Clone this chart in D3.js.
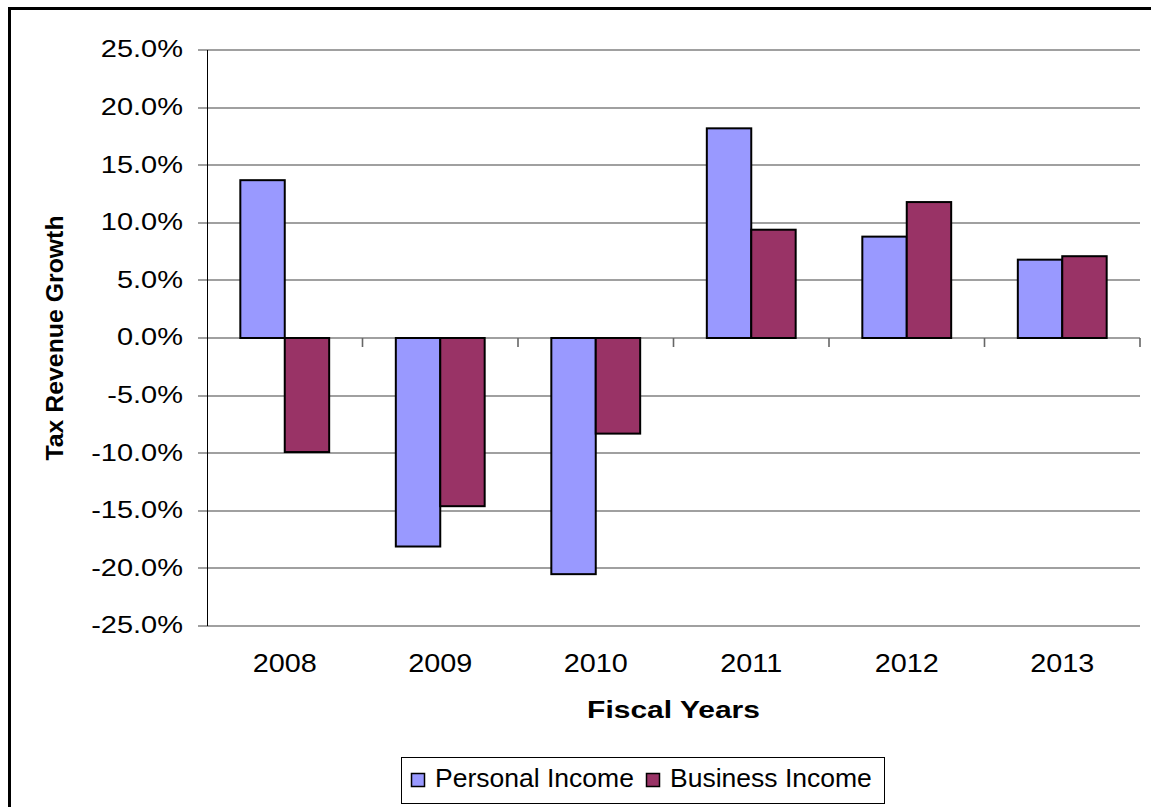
<!DOCTYPE html>
<html>
<head>
<meta charset="utf-8">
<script src="https://cdn.jsdelivr.net/npm/d3@7"></script>
<style>
  body { margin: 0; background: #fff; }
  svg { display: block; font-family: "Liberation Sans", Arial, sans-serif; }
</style>
</head>
<body>
<script>
const years = ['2008', '2009', '2010', '2011', '2012', '2013'];
const seriesNames = ['Personal Income', 'Business Income'];
const personal = [0.137, -0.181, -0.205, 0.182, 0.088, 0.068];
const business = [-0.099, -0.146, -0.083, 0.094, 0.118, 0.071];
const yTicks = [-0.25, -0.2, -0.15, -0.1, -0.05, 0, 0.05, 0.1, 0.15, 0.2, 0.25];
const colors = ['#9999ff', '#993366'];

const width = 1151;
const height = 807;
const margins = { top: 50, bottom: 181, left: 207, right: 11 };

const rows = years.map((y, i) => ({ year: y, values: [personal[i], business[i]] }));

// plain hyphen for negatives, like the original
const pct = d3.formatLocale({
  decimal: '.', thousands: ',', grouping: [3], currency: ['$', ''], minus: '-'
}).format('.1%');

const x0 = d3.scaleBand(years, [margins.left, width - margins.right]).padding(0);
const x1 = d3.scaleBand(d3.range(seriesNames.length), [0, x0.bandwidth()])
  .paddingInner(0)
  .paddingOuter(0.75);
const yScale = d3.scaleLinear([-0.25, 0.25], [height - margins.bottom, margins.top]);

const svg = d3.select('body').append('svg')
  .attr('width', width)
  .attr('height', height);

// outer chart border (runs off the right and bottom edge)
svg.append('rect')
  .attr('x', 9.5)
  .attr('y', 8.5)
  .attr('width', width + 20)
  .attr('height', height + 20)
  .attr('fill', 'none')
  .attr('stroke', '#000')
  .attr('stroke-width', 3);

// gridlines + left tick marks
svg.append('g')
  .selectAll('line')
  .data(yTicks)
  .join('line')
  .attr('x1', margins.left - 9)
  .attr('x2', width - margins.right)
  .attr('y1', d => Math.round(yScale(d)))
  .attr('y2', d => Math.round(yScale(d)))
  .attr('stroke', '#808080')
  .attr('stroke-width', 1.6);

// y axis labels
const ySx = 1.26;
const gy = svg.append('g')
  .attr('transform', `translate(${margins.left}, 0)`)
  .call(d3.axisLeft(yScale).tickValues(yTicks).tickFormat(pct).tickSize(0))
gy.select('.domain').remove();
gy.selectAll('text')
  .attr('x', 0)
  .attr('dy', '0.3em')
  .attr('font-size', 23)
  .attr('fill', '#000')
  .attr('font-family', '"Liberation Sans", Arial, sans-serif')
  .attr('transform', `translate(-24, 0) scale(${ySx}, 1)`);

// left axis line
svg.append('line')
  .attr('x1', margins.left + 0.5)
  .attr('x2', margins.left + 0.5)
  .attr('y1', yScale(0.25))
  .attr('y2', yScale(-0.25))
  .attr('stroke', '#000')
  .attr('stroke-width', 1);

// zero-line tick marks at category boundaries
svg.append('g')
  .selectAll('line')
  .data(years)
  .join('line')
  .attr('x1', d => x0(d) + x0.bandwidth())
  .attr('x2', d => x0(d) + x0.bandwidth())
  .attr('y1', Math.round(yScale(0)))
  .attr('y2', Math.round(yScale(0)) + 9)
  .attr('stroke', '#666')
  .attr('stroke-width', 1.6);

// bars
svg.append('g')
  .selectAll('g')
  .data(rows)
  .join('g')
  .attr('transform', d => `translate(${x0(d.year)}, 0)`)
  .selectAll('rect')
  .data(d => d.values.map((v, i) => ({ v, i })))
  .join('rect')
  .attr('x', d => x1(d.i))
  .attr('width', x1.bandwidth())
  .attr('y', d => yScale(Math.max(0, d.v)))
  .attr('height', d => Math.abs(yScale(d.v) - yScale(0)))
  .attr('fill', d => colors[d.i])
  .attr('stroke', '#000')
  .attr('stroke-width', 2);

// x axis labels
const xSx = 1.13;
const gx = svg.append('g')
  .attr('transform', `translate(0, ${height - margins.bottom})`)
  .call(d3.axisBottom(x0).tickSize(0).tickPadding(0));
gx.select('.domain').remove();
gx.selectAll('text')
  .attr('y', 0)
  .attr('dy', 0)
  .attr('font-size', 25.5)
  .attr('fill', '#000')
  .attr('font-family', '"Liberation Sans", Arial, sans-serif')
  .attr('transform', `translate(0, 46) scale(${xSx}, 1)`);

// axis titles
svg.append('text')
  .attr('transform', `translate(${(margins.left + width - margins.right) / 2}, 718) scale(1.25, 1)`)
  .attr('text-anchor', 'middle')
  .attr('font-size', 24)
  .attr('font-weight', 'bold')
  .text('Fiscal Years');

svg.append('text')
  .attr('transform', `translate(63, ${(yScale(0.25) + yScale(-0.25)) / 2}) rotate(-90) scale(1.08, 1)`)
  .attr('text-anchor', 'middle')
  .attr('font-size', 23)
  .attr('font-weight', 'bold')
  .text('Tax Revenue Growth');

// legend
const legend = svg.append('g');
legend.append('rect')
  .attr('x', 401.5)
  .attr('y', 757.5)
  .attr('width', 483)
  .attr('height', 46)
  .attr('fill', '#fff')
  .attr('stroke', '#000')
  .attr('stroke-width', 1);

const legendX = [411, 646];
const items = legend.selectAll('g.item')
  .data(seriesNames)
  .join('g')
  .attr('class', 'item')
  .attr('transform', (d, i) => `translate(${legendX[i]}, 0)`);
items.append('rect')
  .attr('x', 0.5)
  .attr('y', 773.5)
  .attr('width', 13)
  .attr('height', 13)
  .attr('fill', (d, i) => colors[i])
  .attr('stroke', '#000')
  .attr('stroke-width', 1.5);
items.append('text')
  .attr('transform', 'translate(24, 787) scale(1.04, 1)')
  .attr('font-size', 25.5)
  .text(d => d);
</script>
</body>
</html>
